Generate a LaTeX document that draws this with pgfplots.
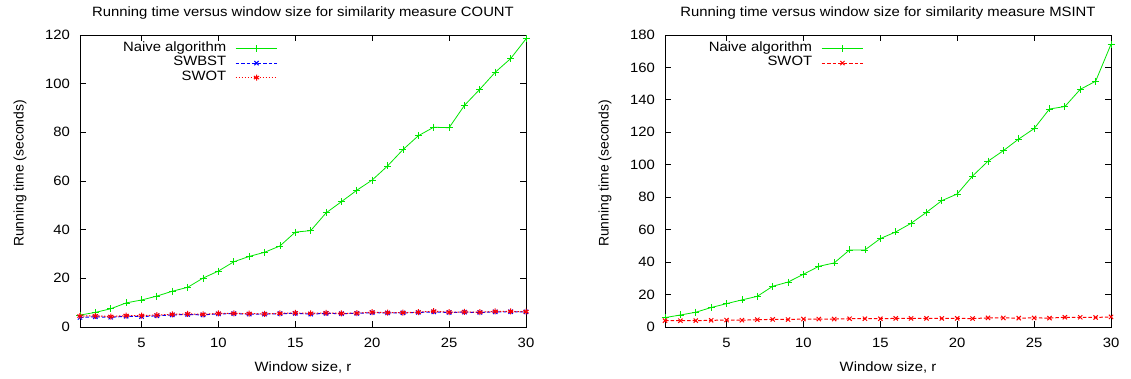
\documentclass[border=0pt]{standalone}
\usepackage{fontspec}
\setmainfont{Liberation Sans}[FakeStretch=1.1]
\newfontfamily\ylabfont{Liberation Sans}
\usepackage{pgfplots}
\pgfplotsset{compat=1.18}
\definecolor{gpgreen}{RGB}{0,230,0}
\definecolor{gpblue}{RGB}{0,0,255}
\definecolor{gpred}{RGB}{255,0,0}

\pgfplotstableread{
x naive swbst swot
1 4.9 3.9 4.5
2 6.0 4.2 4.6
3 7.5 4.0 4.3
4 9.9 4.4 4.7
5 11.1 4.3 4.7
6 12.7 4.6 4.9
7 14.7 5.0 5.2
8 16.3 5.1 5.4
9 20.1 5.0 5.2
10 23.0 5.4 5.6
11 26.8 5.5 5.6
12 29.0 5.3 5.5
13 30.7 5.3 5.4
14 33.3 5.5 5.6
15 39.0 5.6 5.8
16 39.6 5.3 5.6
17 46.9 5.6 5.8
18 51.5 5.5 5.6
19 56.2 5.6 5.7
20 60.4 5.9 6.1
21 66.2 5.8 5.9
22 72.9 5.8 5.9
23 78.6 6.0 6.1
24 82.1 6.2 6.5
25 81.9 6.0 6.1
26 91.1 6.1 6.2
27 97.7 6.0 6.1
28 104.7 6.2 6.4
29 110.3 6.3 6.4
30 118.4 6.2 6.3
}\countdata

\pgfplotstableread{
x naive swot
1 5.8 3.9
2 7.4 3.9
3 9.1 3.9
4 12.0 4.1
5 14.4 4.3
6 16.7 4.2
7 18.9 4.5
8 25.1 4.7
9 27.7 4.6
10 32.5 4.9
11 37.4 4.9
12 39.5 4.9
13 47.5 5.1
14 47.5 5.1
15 54.5 5.1
16 58.6 5.3
17 63.9 5.3
18 70.7 5.3
19 77.9 5.3
20 82.0 5.3
21 93.1 5.2
22 102.2 5.6
23 108.7 5.6
24 115.9 5.5
25 122.3 5.6
26 134.4 5.5
27 135.9 6.0
28 146.5 6.0
29 151.5 5.9
30 174.3 6.2
}\msintdata

\pgfplotsset{
 gp/.style={
  scale only axis, width=446pt, height=292pt,
  xmin=1, xmax=30, xtick={5,10,...,30},
  tick align=inside, tick pos=both, major tick length=6pt,
  axis line style={line width=0.9pt, black},
  every tick/.style={black, line width=0.8pt},
  /pgf/number format/assume math mode=true,
  xticklabel style={anchor=north, inner sep=0pt, yshift=-11pt},
  yticklabel style={anchor=east, inner sep=0pt, xshift=-10pt},
  every axis title shift=0pt,
  title style={at={(axis description cs:0.5,1.074)}, anchor=center, inner sep=0pt},
  every axis x label/.style={at={(axis description cs:0.5,-0.140)}, anchor=center, inner sep=0pt},
  every axis y label/.style={at={(axis description cs:-0.1345,0.526)}, rotate=90, anchor=center, inner sep=0pt, font=\ylabfont\fontsize{13.9}{16}\selectfont},
  legend plot pos=right,
  legend cell align=right,
  legend image code/.code={\draw[mark repeat=2,mark phase=2] plot coordinates {(0pt,0pt) (20.8pt,0pt) (41.6pt,0pt)};},
  legend style={draw=none, fill=none, inner sep=0pt, column sep=9pt, row sep=0pt,
     nodes={inner sep=0pt, text height=10pt, text depth=4.5pt}},
 },
 naive/.style={gpgreen, solid, line width=0.8pt, mark=+, mark size=3.5pt},
}

\begin{document}
\fontsize{13.5}{16}\selectfont
\begin{tikzpicture}
\path[use as bounding box] (-80pt,-51pt) rectangle (1051pt,327pt);
\begin{axis}[gp, at={(0pt,0pt)}, anchor=south west,
  ymin=0, ymax=120, ytick={0,20,...,120},
  title={Running time versus window size for similarity measure COUNT},
  xlabel={Window size, r}, ylabel={Running time (seconds)},
  legend style={at={(axis description cs:0.444,0.979)}, anchor=north east}]
\addplot[naive] table[x=x,y=naive] {\countdata};
\addlegendentry{Naive algorithm}
\addplot[gpblue, line width=1pt, dash pattern=on 3.5pt off 2pt, mark=x, mark size=3pt, mark options={solid}] table[x=x,y=swbst] {\countdata};
\addlegendentry{SWBST}
\addplot[gpred, line width=1pt, dash pattern=on 1.5pt off 1.5pt, mark=asterisk, mark size=3pt, mark options={solid}] table[x=x,y=swot] {\countdata};
\addlegendentry{SWOT}
\end{axis}
\begin{axis}[gp, at={(585pt,0pt)}, anchor=south west,
  ymin=0, ymax=180, ytick={0,20,...,180},
  title={Running time versus window size for similarity measure MSINT},
  xlabel={Window size, r}, ylabel={Running time (seconds)},
  legend style={at={(axis description cs:0.446,0.979)}, anchor=north east}]
\addplot[naive] table[x=x,y=naive] {\msintdata};
\addlegendentry{Naive algorithm}
\addplot[gpred, line width=1pt, dash pattern=on 3.5pt off 2pt, mark=x, mark size=3pt, mark options={solid}] table[x=x,y=swot] {\msintdata};
\addlegendentry{SWOT}
\end{axis}
\end{tikzpicture}
\end{document}
